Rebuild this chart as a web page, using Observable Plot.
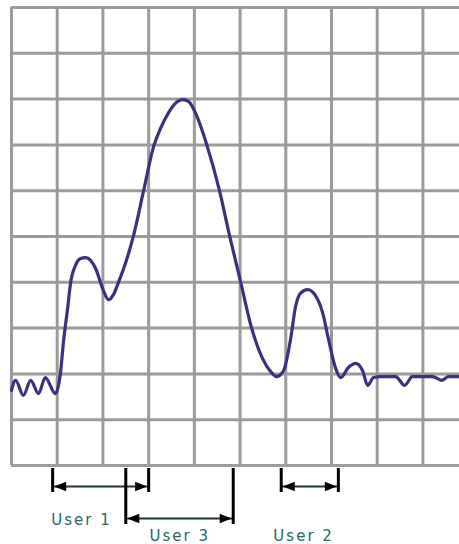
<!DOCTYPE html>
<html>
<head>
<meta charset="utf-8">
<script src="https://cdn.jsdelivr.net/npm/d3@7"></script>
<script src="https://cdn.jsdelivr.net/npm/@observablehq/plot@0.6"></script>
<style>
  html, body { margin: 0; padding: 0; background: #ffffff; }
  #chart svg { display: block; }
</style>
</head>
<body>
<div id="chart"></div>
<script>
// Signal trace (x in grid divisions, y in grid divisions)
const curveX = [0.00, 0.09, 0.26, 0.42, 0.59, 0.74, 0.96, 1.07, 1.14, 1.23, 1.29, 1.40, 1.51, 1.62, 1.73, 1.84, 2.01, 2.12, 2.23, 2.34, 2.52, 2.67, 2.89, 3.11, 3.26, 3.44, 3.61, 3.74, 3.87, 4.05, 4.27, 4.55, 4.77, 5.01, 5.25, 5.49, 5.67, 5.80, 5.95, 6.11, 6.21, 6.32, 6.48, 6.65, 6.81, 6.94, 7.09, 7.20, 7.37, 7.53, 7.68, 7.79, 7.92, 8.07, 8.40, 8.60, 8.77, 9.21, 9.41, 9.56, 9.80];
const curveY = [1.64, 1.86, 1.53, 1.86, 1.57, 1.92, 1.57, 2.01, 2.73, 3.45, 3.97, 4.37, 4.52, 4.54, 4.48, 4.30, 3.82, 3.62, 3.73, 4.00, 4.50, 5.02, 6.00, 6.97, 7.36, 7.71, 7.93, 7.99, 7.95, 7.64, 7.01, 6.00, 5.02, 4.02, 3.01, 2.34, 2.05, 1.94, 2.07, 2.79, 3.45, 3.76, 3.84, 3.71, 3.32, 2.73, 2.12, 1.92, 2.14, 2.23, 2.07, 1.75, 1.92, 1.94, 1.94, 1.75, 1.94, 1.94, 1.86, 1.94, 1.94];

// Grid divisions
const gridXTicks = [0, 1, 2, 3, 4, 5, 6, 7, 8, 9];
const gridYTicks = [0, 1, 2, 3, 4, 5, 6, 7, 8, 9, 10];

// User spans
const users = ["User 1", "User 3", "User 2"];
const spanStart = [0.9, 2.5, 5.9];
const spanEnd = [3.0, 4.85, 7.15];
const bracketRow = [0, 1, 0];
const labelX = [1.53, 3.68, 6.39];
const labelRow = [0, 1, 1];

const trace = curveX.map((x, i) => ({x, y: curveY[i]}));
const spans = users.map((u, i) => ({user: u, x1: spanStart[i], x2: spanEnd[i], row: bracketRow[i], lx: labelX[i], lrow: labelRow[i]}));

// custom arrowhead symbols with the tip at the origin
const arrowLeft = {draw(ctx, size) { const r = Math.sqrt(size / Math.PI); ctx.moveTo(0, 0); ctx.lineTo(2.8 * r, -1.1 * r); ctx.lineTo(2.8 * r, 1.1 * r); ctx.closePath(); }};
const arrowRight = {draw(ctx, size) { const r = Math.sqrt(size / Math.PI); ctx.moveTo(0, 0); ctx.lineTo(-2.8 * r, -1.1 * r); ctx.lineTo(-2.8 * r, 1.1 * r); ctx.closePath(); }};

const gridColor = "#9b9b9b";
const xDomain = [0, 9.8];

const mainPlot = Plot.plot({
  width: 459,
  height: 467,
  marginTop: 7,
  marginLeft: 11,
  marginRight: 0,
  marginBottom: 2,
  x: {domain: xDomain, axis: null},
  y: {domain: [0, 10], axis: null},
  style: {background: "#ffffff", overflow: "visible"},
  marks: [
    Plot.gridX(gridXTicks, {stroke: gridColor, strokeOpacity: 1, strokeWidth: 3}),
    Plot.gridY(gridYTicks, {stroke: gridColor, strokeOpacity: 1, strokeWidth: 3}),
    Plot.line(trace, {x: "x", y: "y", curve: "monotone-x", stroke: "#38327f", strokeWidth: 3.2, strokeLinejoin: "round", strokeLinecap: "round"})
  ]
});

const bracketPlot = Plot.plot({
  width: 459,
  height: 77,
  marginTop: 1,
  marginLeft: 11,
  marginRight: 0,
  marginBottom: 12,
  x: {domain: xDomain, axis: null},
  y: {type: "band", domain: [0, 1], padding: 0, axis: null},
  style: {background: "#ffffff", overflow: "visible", fontFamily: "DejaVu Sans", letterSpacing: "2px"},
  marks: [
    Plot.ruleY(spans, {x1: "x1", x2: "x2", y: "row", dy: 2, stroke: "#1e3535", strokeWidth: 2}),
    Plot.ruleX(spans, {x: "x1", y: "row", insetBottom: 8, stroke: "#000", strokeWidth: 3}),
    Plot.ruleX(spans, {x: "x2", y: "row", insetBottom: 8, stroke: "#000", strokeWidth: 3}),
    Plot.dot(spans, {x: "x1", y: "row", dy: 2, dx: 1.5, symbol: arrowLeft, r: 4.3, fill: "#000", stroke: "none"}),
    Plot.dot(spans, {x: "x2", y: "row", dy: 2, dx: -1.5, symbol: arrowRight, r: 4.3, fill: "#000", stroke: "none"}),
    Plot.text(spans, {filter: d => d.lrow === 0, x: "lx", y: "lrow", text: "user", dy: 36, fill: "#2e6464", fontSize: 15}),
    Plot.text(spans, {filter: d => d.lrow === 1, x: "lx", y: "lrow", text: "user", dy: 20, fill: "#2e6464", fontSize: 15})
  ]
});

const chart = document.getElementById("chart");
chart.appendChild(mainPlot);
chart.appendChild(bracketPlot);
</script>
</body>
</html>
